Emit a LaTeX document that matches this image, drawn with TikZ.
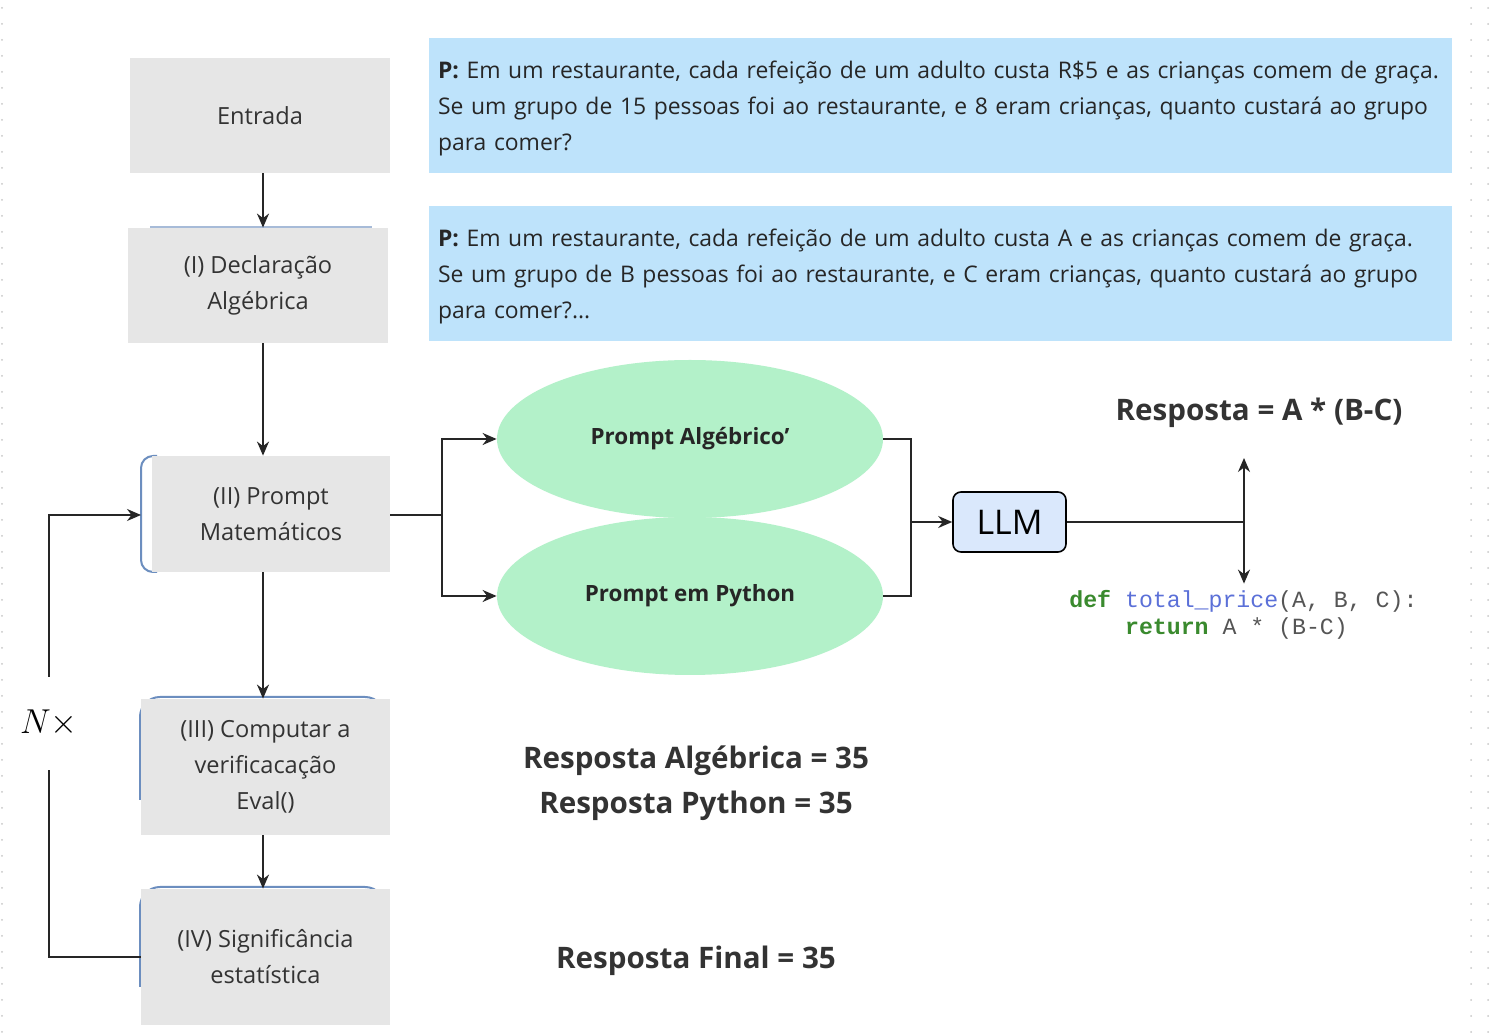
\documentclass[tikz,border=0pt]{standalone}
\usepackage{fontspec}
\setmainfont{Open Sans}
\setmonofont{Liberation Mono}
\usetikzlibrary{positioning,arrows.meta,shapes.geometric}
\definecolor{boxgray}{HTML}{E6E6E6}
\definecolor{qblue}{HTML}{BEE3FB}
\definecolor{pgreen}{HTML}{B3F1C9}
\definecolor{llmblue}{HTML}{DAE8FC}
\definecolor{edgeblue}{HTML}{6C8EBF}
\definecolor{txtgray}{HTML}{333333}
\definecolor{dotgray}{HTML}{C8C8C8}
\definecolor{codegreen}{HTML}{3A8A2E}
\definecolor{codeblue}{HTML}{5B70D8}
\definecolor{codegray}{HTML}{555555}

\begin{document}
\begin{tikzpicture}[x=0.5pt,y=-0.5pt,
  stepbox/.style={rectangle, fill=boxgray, text=txtgray, align=center, inner sep=0pt,
    font=\fontsize{11.8}{18}\selectfont},
  qbox/.style={rectangle, fill=qblue, text=black!85, align=left, inner xsep=4.5pt, inner ysep=0pt,
    text width=502.5pt, minimum height=67.5pt, font=\fontsize{11.45}{18}\selectfont},
  prompt/.style={ellipse, fill=pgreen, inner sep=0pt, minimum width=193pt, minimum height=79pt,
    text=black!85, font=\bfseries\fontsize{11.2}{13}\selectfont},
  answer/.style={text=txtgray, font=\bfseries\fontsize{14.8}{18}\selectfont},
  flow/.style={-{Stealth[length=7pt,width=6pt]}, line width=0.9pt, black!85},
  link/.style={line width=0.9pt, black!85}
]
% Page
\fill[white] (0,0) rectangle (1496,1036);
\foreach \y in {8,24,...,1032} {
  \fill[dotgray] (2,\y) circle (0.5pt);
  \fill[dotgray] (1471,\y) circle (0.5pt);
  \fill[dotgray] (1488,\y) circle (0.5pt);
}

% Blue edges behind the steps
\draw[edgeblue!60, line width=0.6pt] (150,227) -- (372,227);
\draw[edgeblue, line width=1pt, rounded corners=6pt] (157,456) -- (141,456) -- (141,572) -- (157,572);
\draw[edgeblue, line width=1pt, rounded corners=10pt] (140,800) -- (140,697) -- (385,697) -- (385,730);
\draw[edgeblue, line width=1pt, rounded corners=10pt] (140,987) -- (140,887) -- (385,887) -- (385,920);

% Steps
\node[stepbox, minimum width=130pt, minimum height=57.5pt] (entrada) at (260,115.5) {Entrada};
\node[stepbox, minimum width=130pt, minimum height=57.5pt] (decl) at (258,285.5) {(I) Declaração\\Algébrica};
\node[stepbox, minimum width=119pt, minimum height=58pt] (promptmat) at (271,514) {(II) Prompt\\Matemáticos};
\node[stepbox, minimum width=124.5pt, minimum height=68pt] (computar) at (265.5,767) {(III) Computar a\\verificacação\\Eval()};
\node[stepbox, minimum width=124.5pt, minimum height=68pt] (signif) at (265.5,957) {(IV) Significância\\estatística};

% Questions
\node[qbox] (qorig) at (940.5,105.5) {\rule{0pt}{11.5pt}\textbf{P:} Em um restaurante, cada refeição de um adulto custa R\$5 e as crianças comem de graça.\\Se um grupo de 15 pessoas foi ao restaurante, e 8 eram crianças, quanto custará ao grupo\\para comer?};
\node[qbox] (qalg) at (940.5,273.5) {\rule{0pt}{11.5pt}\textbf{P:} Em um restaurante, cada refeição de um adulto custa A e as crianças comem de graça.\\Se um grupo de B pessoas foi ao restaurante, e C eram crianças, quanto custará ao grupo\\para comer?...};

% Prompts and model
\node[prompt] (palg) at (690,439) {Prompt Algébrico’};
\node[prompt] (ppy) at (690,596) {Prompt em Python};
\node[rectangle, rounded corners=4pt, draw=black, line width=0.8pt, fill=llmblue, inner sep=0pt,
  minimum width=56.5pt, minimum height=30pt, font=\fontsize{17}{20}\selectfont] (llm) at (1009.5,522) {LLM};

% Outputs
\node[answer] (resp) at (1259,413) {Resposta = A * (B-C)};
\node[anchor=west, inner xsep=0pt, inner ysep=3pt, align=left, text=codegray,
  font=\ttfamily\fontsize{11.6}{13.5}\selectfont] (code) at (1069,614.5)
  {\textbf{\color{codegreen}def} {\color{codeblue}total\_price}(A, B, C):\\\phantom{def }\textbf{\color{codegreen}return} A * (B-C)};
\node[answer] (ansalg) at (696,761) {Resposta Algébrica = 35};
\node[answer] (anspy) at (696,806) {Resposta Python = 35};
\node[answer] (ansfin) at (696,961) {Resposta Final = 35};
\node[inner sep=0pt, minimum height=46.5pt, font=\fontsize{17}{20}\selectfont] (nx) at (49,723.5) {$N\times$};

% Connectors
\coordinate (spine) at (263,0);
\coordinate (fork) at (442,515);
\coordinate (join) at (911,522);
\coordinate (split) at (1244,522);
\coordinate (uptip) at (1244,458);
\coordinate (bracket) at (141,515);
\draw[flow] (spine |- entrada.south) -- (spine |- decl.north);
\draw[flow] (spine |- decl.south) -- (spine |- promptmat.north);
\draw[flow] (spine |- promptmat.south) -- (spine |- computar.north);
\draw[flow] (spine |- computar.south) -- (spine |- signif.north);
\draw[link] (signif.west) -| (nx.south);
\draw[flow] (nx.north) |- (bracket);
\draw[link] (promptmat.east |- fork) -- (fork);
\draw[flow] (fork) |- (palg.west);
\draw[flow] (fork) |- (ppy.west);
\draw[link] (palg.east) -| (join) |- (ppy.east);
\draw[flow] (join) -- (llm.west);
\draw[link] (llm.east) -- (split);
\draw[flow] (split) -- (uptip);
\draw[flow] (split) -- (split |- code.north);
\end{tikzpicture}
\end{document}
